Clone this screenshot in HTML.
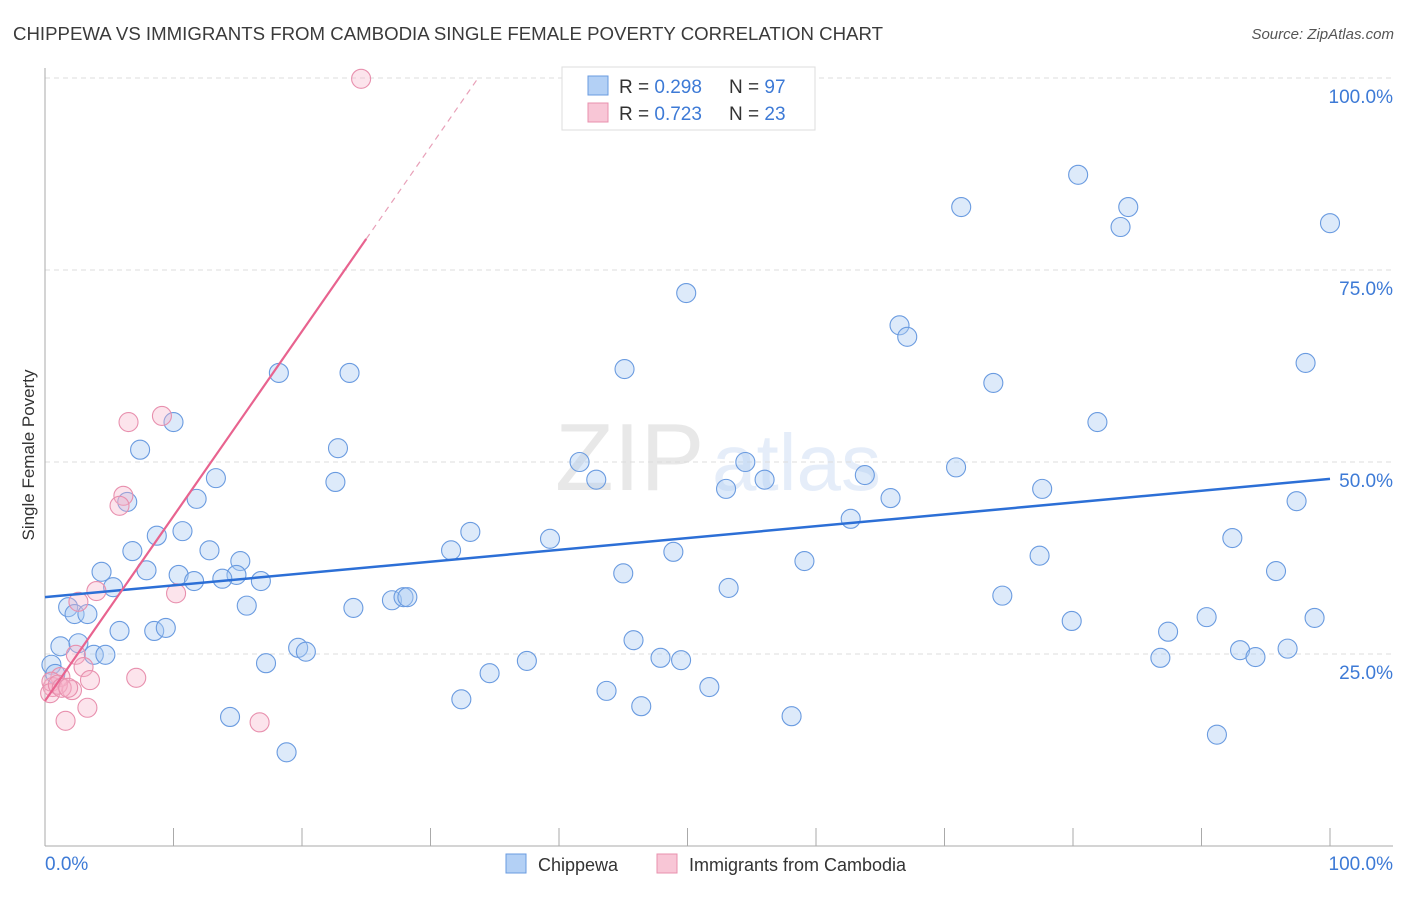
<!DOCTYPE html>
<html><head><meta charset="utf-8"><style>
body{margin:0;background:#fff;font-family:"Liberation Sans",sans-serif;}
svg text{font-family:"Liberation Sans",sans-serif;}
</style></head><body>
<svg id="chart" width="1406" height="892" viewBox="0 0 1406 892" xmlns="http://www.w3.org/2000/svg">
<text x="13" y="40" font-size="18" fill="#3a3a3a" textLength="870" lengthAdjust="spacingAndGlyphs">CHIPPEWA VS IMMIGRANTS FROM CAMBODIA SINGLE FEMALE POVERTY CORRELATION CHART</text>
<text x="1394" y="39" font-size="15" fill="#555" text-anchor="end" font-style="italic">Source: ZipAtlas.com</text>
<text transform="translate(34,455) rotate(-90)" font-size="17" fill="#333" text-anchor="middle">Single Female Poverty</text>
<g opacity="0.13">
<text x="555" y="490" font-size="96" font-family="Liberation Serif" fill="#555">ZIP</text>
<text x="712" y="490" font-size="80" fill="#3d7ad6">atlas</text>
</g>
<g id="grid"></g>
<g id="axes"></g>
<g id="points"></g>
<g id="lines"></g>
<g>
<rect x="562" y="67" width="253" height="63" fill="#fff" stroke="#ddd"/>
<rect x="588" y="76" width="20" height="19" fill="#b3d0f5" stroke="#6a9be0"/>
<text x="619" y="93" font-size="19" fill="#333">R = <tspan fill="#3d7ad6">0.298</tspan></text>
<text x="729" y="93" font-size="19" fill="#333">N = <tspan fill="#3d7ad6">97</tspan></text>
<rect x="588" y="103" width="20" height="19" fill="#f8c6d6" stroke="#e890ae"/>
<text x="619" y="120" font-size="19" fill="#333">R = <tspan fill="#3d7ad6">0.723</tspan></text>
<text x="729" y="120" font-size="19" fill="#333">N = <tspan fill="#3d7ad6">23</tspan></text>
</g>
<g>
<rect x="506" y="854" width="20" height="19" fill="#b3d0f5" stroke="#6a9be0"/>
<text x="538" y="871" font-size="18" fill="#333">Chippewa</text>
<rect x="657" y="854" width="20" height="19" fill="#f8c6d6" stroke="#e890ae"/>
<text x="689" y="871" font-size="18" fill="#333">Immigrants from Cambodia</text>
</g>
</svg>
<script>
const blueX=[80.4,71.3,84.3,83.7,100,49.9,66.5,67.1,98.1,18.2,23.7,45.1,73.8,81.9,10.0,7.4,22.8,41.6,54.5,70.9,13.3,63.8,42.9,56.0,22.6,53.0,77.6,65.8,97.4,6.4,11.8,62.7,10.7,8.7,33.1,39.3,92.4,6.8,12.8,31.6,48.9,15.2,59.1,77.4,4.4,7.9,95.8,10.4,14.9,45.0,11.6,13.8,16.8,5.3,53.2,74.5,27.0,27.9,28.2,1.8,2.3,3.3,15.7,24.0,90.4,98.8,79.9,5.8,8.5,9.4,87.4,45.8,2.6,1.2,19.7,20.3,93.0,96.7,3.8,4.7,47.9,49.5,86.8,94.2,37.5,17.2,34.6,0.5,0.8,51.7,43.7,32.4,46.4,14.4,58.1,91.2,18.8];
const blueY=[87.4,83.2,83.2,80.6,81.1,72.0,67.8,66.3,62.9,61.6,61.6,62.1,60.3,55.2,55.2,51.6,51.8,50.0,50.0,49.3,47.9,48.3,47.7,47.7,47.4,46.5,46.5,45.3,44.9,44.8,45.2,42.6,41.0,40.4,40.9,40.0,40.1,38.4,38.5,38.5,38.3,37.1,37.1,37.8,35.7,35.9,35.8,35.3,35.3,35.5,34.5,34.8,34.5,33.7,33.6,32.6,32.0,32.4,32.4,31.1,30.2,30.2,31.3,31.0,29.8,29.7,29.3,28.0,28.0,28.4,27.9,26.8,26.4,26.0,25.8,25.3,25.5,25.7,24.9,24.9,24.5,24.2,24.5,24.6,24.1,23.8,22.5,23.6,22.4,20.7,20.2,19.1,18.2,16.8,16.9,14.5,12.2];
const pinkX=[24.6,9.1,6.5,6.1,5.8,4.0,2.6,10.2,2.4,3.0,3.5,7.1,2.1,1.2,0.6,0.5,3.3,1.6,16.7,0.4,1.0,1.3,1.8];
const pinkY=[99.9,56.0,55.2,45.6,44.3,33.2,31.8,32.9,24.9,23.3,21.6,21.9,20.3,22.0,20.7,21.4,18.0,16.3,16.1,19.9,21.0,20.6,20.6];
const blueTrend=[32.4,47.8];   // y at x=0 and x=100
const pinkTrend=[18.9,2.406];  // intercept, slope
const pinkSolidEnd=25;
const yTicks=[25,50,75,100];
const yTickLabels=["25.0%","50.0%","75.0%","100.0%"];
const xTickCount=10;

const NS="http://www.w3.org/2000/svg";
const X0=45,X1=1330,Y0=846,Y100=78;
const sx=v=>X0+(X1-X0)*v/100;
const sy=v=>Y0-(Y0-Y100)*v/100;
function mk(tag,attrs,parent){const e=document.createElementNS(NS,tag);for(const k in attrs)e.setAttribute(k,attrs[k]);parent.appendChild(e);return e;}
const grid=document.getElementById('grid'),axes=document.getElementById('axes'),pts=document.getElementById('points'),lines=document.getElementById('lines');
yTicks.forEach((t,i)=>{
  const l=mk('line',{x1:X0,x2:1393,y1:sy(t),y2:sy(t),stroke:'#ddd','stroke-dasharray':'5,4'},grid);
  
  
  const tx=mk('text',{x:1393,y:sy(t)+25,'font-size':19,fill:'#3d7ad6','text-anchor':'end'},axes);
  tx.textContent=yTickLabels[i];
  
  
});
const ax=mk('line',{x1:X0,x2:1393,y1:Y0,y2:Y0,stroke:'#aaa'},axes);


const ay=mk('line',{x1:X0,x2:X0,y1:68,y2:Y0,stroke:'#aaa'},axes);


for(let i=1;i<=xTickCount;i++){
  const t=mk('line',{x1:sx(i*100/xTickCount),x2:sx(i*100/xTickCount),y1:Y0-18,y2:Y0,stroke:'#aaa'},axes);
  
  
}
const xl0=mk('text',{x:45,y:870,'font-size':19,fill:'#3d7ad6'},axes);xl0.textContent='0.0%';


const xl1=mk('text',{x:1393,y:870,'font-size':19,fill:'#3d7ad6','text-anchor':'end'},axes);xl1.textContent='100.0%';



blueX.forEach((x,i)=>{
  const c=mk('circle',{cx:sx(x),cy:sy(blueY[i]),r:9.5,fill:'rgba(170,202,242,0.4)',stroke:'#6a9be0','stroke-width':1.1},pts);
  
  
});
pinkX.forEach((x,i)=>{
  const c=mk('circle',{cx:sx(x),cy:sy(pinkY[i]),r:9.5,fill:'rgba(245,178,200,0.35)',stroke:'#e890ae','stroke-width':1.1},pts);
  
  
});
const bl=mk('line',{x1:sx(0),y1:sy(blueTrend[0]),x2:sx(100),y2:sy(blueTrend[1]),stroke:'#2c6fd6','stroke-width':2.5},lines);


const pEnd=(100-pinkTrend[0])/pinkTrend[1];
const pl=mk('line',{x1:sx(0),y1:sy(pinkTrend[0]),x2:sx(pinkSolidEnd),y2:sy(pinkTrend[0]+pinkTrend[1]*pinkSolidEnd),stroke:'#e8638f','stroke-width':2.2},lines);


const pd=mk('line',{x1:sx(pinkSolidEnd),y1:sy(pinkTrend[0]+pinkTrend[1]*pinkSolidEnd),x2:sx(pEnd),y2:sy(100),stroke:'#e8a0b8','stroke-width':1.2,'stroke-dasharray':'6,5'},lines);


</script>
</body></html>
